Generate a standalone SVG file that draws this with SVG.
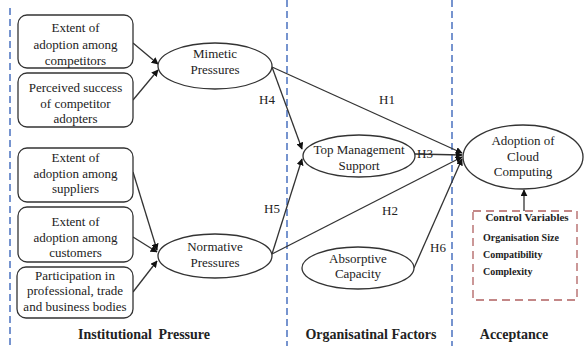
<svg xmlns="http://www.w3.org/2000/svg" width="584" height="346" viewBox="0 0 584 346">
  <style>
    .box { fill: #ffffff; stroke: #333333; stroke-width: 1.3; }
    .ell { fill: #ffffff; stroke: #333333; stroke-width: 1.3; }
    .t, .h, .sec, .cv, .cvh { font-family: "Liberation Serif", Tinos, "DejaVu Serif", "Times New Roman", serif; fill: #222222; }
    .t { font-size: 13px; text-anchor: middle; }
    .h { font-size: 13px; text-anchor: middle; }
    .sec { font-size: 14px; font-weight: bold; text-anchor: middle; }
    .cv { font-size: 10px; font-weight: bold; }
    .cvh { font-size: 11px; font-weight: bold; text-anchor: middle; }
    .div { stroke: #4a72c0; stroke-width: 1.5; stroke-dasharray: 7 4; fill: none; }
    .link { stroke: #333333; stroke-width: 1.3; fill: none; marker-end: url(#arrow); }
  </style>
  <defs>
    <marker id="arrow" viewBox="0 0 10 10" refX="9" refY="5" markerWidth="7" markerHeight="7" markerUnits="userSpaceOnUse" orient="auto">
      <path d="M0,0 L10,5 L0,10 z" fill="#111111"/>
    </marker>
  </defs>

  <rect width="584" height="346" fill="#ffffff"/>

  <!-- section dividers -->
  <g id="dividers">
    <line class="div" x1="10" y1="8" x2="10" y2="346"/>
    <line class="div" x1="287" y1="0" x2="287" y2="346"/>
    <line class="div" x1="452" y1="0" x2="452" y2="346"/>
  </g>

  <!-- connectors -->
  <g id="connectors">
    <line class="link" x1="133" y1="43" x2="158" y2="64"/>
    <line class="link" x1="133" y1="100" x2="158" y2="70"/>
    <line class="link" x1="133" y1="172" x2="157" y2="250"/>
    <line class="link" x1="133" y1="237" x2="157" y2="252"/>
    <line class="link" x1="133" y1="292" x2="157" y2="261"/>
    <line class="link" x1="272" y1="67" x2="302" y2="149"/>
    <line class="link" x1="272" y1="254" x2="302" y2="159"/>
    <line class="link" x1="272" y1="67" x2="462" y2="153"/>
    <line class="link" x1="415" y1="154" x2="462" y2="155"/>
    <line class="link" x1="272" y1="254" x2="462" y2="157"/>
    <line class="link" x1="414" y1="268" x2="462" y2="159"/>
    <line class="link" x1="524" y1="211" x2="524" y2="190"/>
    <text class="h" x="267" y="104">H4</text>
    <text class="h" x="387" y="104">H1</text>
    <text class="h" x="425" y="158">H3</text>
    <text class="h" x="272" y="213">H5</text>
    <text class="h" x="390" y="215">H2</text>
    <text class="h" x="438" y="252">H6</text>
  </g>

  <!-- institutional pressure indicators -->
  <g id="box-competitors">
    <rect class="box" x="18" y="15" width="115" height="53" rx="9"/>
    <text class="t" x="75.5" y="32">Extent of</text>
    <text class="t" x="75.5" y="49">adoption among</text>
    <text class="t" x="75.5" y="64.5">competitors</text>
  </g>
  <g id="box-success">
    <rect class="box" x="18" y="73" width="115" height="54" rx="9"/>
    <text class="t" x="75.5" y="92">Perceived success</text>
    <text class="t" x="75.5" y="107.5">of competitor</text>
    <text class="t" x="75.5" y="123">adopters</text>
  </g>
  <g id="box-suppliers">
    <rect class="box" x="18" y="148" width="115" height="54" rx="9"/>
    <text class="t" x="75.5" y="162">Extent of</text>
    <text class="t" x="75.5" y="177.5">adoption among</text>
    <text class="t" x="75.5" y="193">suppliers</text>
  </g>
  <g id="box-customers">
    <rect class="box" x="18" y="207" width="115" height="55" rx="9"/>
    <text class="t" x="75.5" y="226">Extent of</text>
    <text class="t" x="75.5" y="241.5">adoption among</text>
    <text class="t" x="75.5" y="257">customers</text>
  </g>
  <g id="box-bodies">
    <rect class="box" x="17" y="267" width="116" height="51" rx="9"/>
    <text class="t" x="75" y="279.5">Participation in</text>
    <text class="t" x="75" y="295">professional, trade</text>
    <text class="t" x="75" y="310.5">and business bodies</text>
  </g>

  <!-- constructs -->
  <g id="mimetic">
    <ellipse class="ell" cx="215" cy="66" rx="57" ry="23"/>
    <text class="t" x="215" y="58">Mimetic</text>
    <text class="t" x="215" y="74">Pressures</text>
  </g>
  <g id="normative">
    <ellipse class="ell" cx="215" cy="256" rx="57" ry="22"/>
    <text class="t" x="215" y="251">Normative</text>
    <text class="t" x="215" y="267">Pressures</text>
  </g>
  <g id="top-management">
    <ellipse class="ell" cx="359" cy="156" rx="56" ry="21"/>
    <text class="t" x="359" y="154">Top Management</text>
    <text class="t" x="359" y="170">Support</text>
  </g>
  <g id="absorptive">
    <ellipse class="ell" cx="358" cy="268" rx="56" ry="21"/>
    <text class="t" x="358" y="263">Absorptive</text>
    <text class="t" x="358" y="278">Capacity</text>
  </g>
  <g id="adoption">
    <ellipse class="ell" cx="523" cy="157" rx="60" ry="32"/>
    <text class="t" x="523" y="145">Adoption of</text>
    <text class="t" x="523" y="161">Cloud</text>
    <text class="t" x="523" y="176">Computing</text>
  </g>

  <!-- control variables -->
  <g id="control-variables">
    <rect x="473" y="211" width="104" height="89" fill="none" stroke="#b06060" stroke-width="1.3" stroke-dasharray="8 5"/>
    <text class="cvh" x="527" y="221">Control Variables</text>
    <text class="cv" x="483" y="241">Organisation Size</text>
    <text class="cv" x="483" y="258">Compatibility</text>
    <text class="cv" x="483" y="275">Complexity</text>
  </g>

  <!-- section titles -->
  <g id="section-titles">
    <text class="sec" x="144" y="339" style="word-spacing:3px">Institutional Pressure</text>
    <text class="sec" x="371" y="339">Organisatinal Factors</text>
    <text class="sec" x="514" y="339">Acceptance</text>
  </g>
</svg>
